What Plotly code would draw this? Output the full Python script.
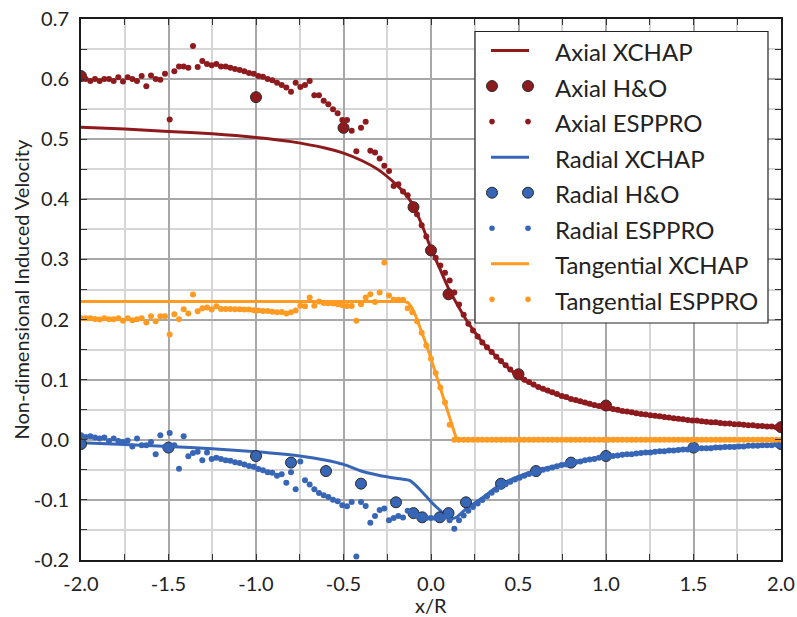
import numpy as np
import plotly.graph_objects as go

# ---------------- data ----------------
# Axial XCHAP (line)
ax_xchap_x = [-2.0, -1.75, -1.5, -1.25, -1.0, -0.8, -0.6, -0.5, -0.4, -0.3, -0.2, -0.15, -0.1, -0.05,
              0.0, 0.05, 0.1, 0.15, 0.2, 0.25, 0.3, 0.4, 0.5, 0.6, 0.7, 0.8, 0.9, 1.0, 1.2, 1.4,
              1.6, 1.8, 2.0]
ax_xchap_y = [0.520, 0.517, 0.513, 0.509, 0.503, 0.496, 0.485, 0.477, 0.465, 0.449, 0.425, 0.410, 0.389, 0.356,
              0.318, 0.285, 0.252, 0.225, 0.200, 0.179, 0.160, 0.131, 0.105, 0.089, 0.077, 0.067, 0.059, 0.052,
              0.042, 0.034, 0.028, 0.024, 0.020]

# Axial H&O
ax_ho_x = [-2.0, -1.0, -0.5, -0.1, 0.0, 0.1, 0.5, 1.0, 2.0]
ax_ho_y = [0.605, 0.570, 0.519, 0.387, 0.315, 0.242, 0.109, 0.057, 0.021]

# ESPPRO sampling stations (uniform, 151 stations from -2 to 2)
esp_x = np.linspace(-2.0, 2.0, 151)

ax_esp_y = [
    0.605, 0.600, 0.597, 0.600, 0.597, 0.600, 0.600, 0.597, 0.603, 0.596,
    0.603, 0.600, 0.597, 0.605, 0.588, 0.606, 0.600, 0.599, 0.609, 0.533,
    0.613, 0.621, 0.621, 0.619, 0.655, 0.620, 0.630, 0.625, 0.623, 0.625,
    0.621, 0.621, 0.619, 0.617, 0.615, 0.613, 0.610, 0.609, 0.605, 0.604,
    0.600, 0.598, 0.594, 0.590, 0.586, 0.579, 0.594, 0.587, 0.590, 0.597,
    0.573, 0.573, 0.564, 0.558, 0.550, 0.543, 0.532, 0.532, 0.514, 0.480,
    0.519, 0.529, 0.481, 0.478, 0.468, 0.456, 0.447, 0.422, 0.425, 0.413,
    0.407, 0.392, 0.375, 0.357, 0.338, 0.320, 0.303, 0.290, 0.278, 0.265,
    0.245, 0.225, 0.208, 0.193, 0.182, 0.172, 0.162, 0.154, 0.146, 0.138,
    0.131, 0.124, 0.117, 0.111, 0.105, 0.100, 0.096, 0.092, 0.088, 0.085,
    0.082, 0.079, 0.076, 0.073, 0.071, 0.068, 0.066, 0.064, 0.062, 0.060,
    0.058, 0.056, 0.054, 0.053, 0.051, 0.050, 0.048, 0.047, 0.046, 0.044,
    0.043, 0.042, 0.041, 0.040, 0.039, 0.038, 0.037, 0.036, 0.035, 0.034,
    0.033, 0.032, 0.032, 0.031, 0.030, 0.029, 0.029, 0.028, 0.027, 0.027,
    0.026, 0.026, 0.025, 0.024, 0.024, 0.023, 0.023, 0.022, 0.022, 0.021,
    0.021,
]

# Radial XCHAP (line)
rad_xchap_x = [-2.0, -1.75, -1.5, -1.25, -1.0, -0.75, -0.6, -0.5, -0.4, -0.3, -0.2, -0.15, -0.12,
               -0.09, -0.05, 0.0, 0.05, 0.09, 0.12, 0.15, 0.2, 0.25, 0.3, 0.35, 0.4, 0.5, 0.6, 0.8,
               1.0, 1.25, 1.5, 1.75, 2.0]
rad_xchap_y = [-0.005, -0.008, -0.011, -0.015, -0.020, -0.027, -0.034, -0.041, -0.052, -0.059, -0.064,
               -0.066, -0.068, -0.075, -0.087, -0.103, -0.117, -0.127, -0.131, -0.128, -0.115, -0.105,
               -0.095, -0.084, -0.074, -0.061, -0.051, -0.038, -0.028, -0.020, -0.014, -0.010, -0.007]

# Radial H&O
rad_ho_x = [-2.0, -1.5, -1.0, -0.8, -0.6, -0.4, -0.2, -0.1, -0.05, 0.05, 0.1, 0.2, 0.4, 0.6, 0.8,
            1.0, 1.5, 2.0]
rad_ho_y = [-0.007, -0.013, -0.027, -0.038, -0.052, -0.073, -0.104, -0.122, -0.129, -0.129, -0.122,
            -0.104, -0.073, -0.052, -0.038, -0.027, -0.013, -0.007]

rad_esp_y = [
    0.0075, 0.0047, 0.0058, 0.0036, 0.002, 0.0036, -0.002, 0.002, -0.002, -0.0036,
    -0.001, -0.011, 0.002, -0.009, -0.009, -0.0036, -0.024, 0.0075, -0.012, 0.0114,
    -0.009, -0.048, 0.0058, -0.0275, -0.022, -0.020, -0.034, -0.021, -0.032, -0.030,
    -0.032, -0.034, -0.035, -0.0374, -0.0385, -0.0413, -0.0435, -0.045, -0.0485, -0.0507,
    -0.054, -0.055, -0.060, -0.0574, -0.0713, -0.054, -0.0824, -0.0363, -0.0674, -0.0746,
    -0.0824, -0.0885, -0.0924, -0.0952, -0.0996, -0.1024, -0.109, -0.1107, -0.1035, -0.194,
    -0.1035, -0.110, -0.138, -0.127, -0.117, -0.1145, -0.134, -0.130, -0.127, -0.1295,
    -0.118, -0.122, -0.126, -0.129, -0.130, -0.130, -0.130, -0.129, -0.128, -0.134,
    -0.148, -0.134, -0.126, -0.118, -0.112, -0.106, -0.100, -0.094, -0.088, -0.083,
    -0.078, -0.074, -0.070, -0.066, -0.063, -0.060, -0.057, -0.055, -0.052, -0.050,
    -0.048, -0.046, -0.044, -0.042, -0.041, -0.039, -0.037, -0.036, -0.034, -0.033,
    -0.032, -0.030, -0.029, -0.028, -0.027, -0.026, -0.025, -0.024, -0.024, -0.023,
    -0.022, -0.021, -0.021, -0.020, -0.019, -0.019, -0.018, -0.018, -0.017, -0.016,
    -0.016, -0.015, -0.015, -0.014, -0.014, -0.014, -0.013, -0.013, -0.012, -0.012,
    -0.012, -0.011, -0.011, -0.010, -0.010, -0.010, -0.009, -0.009, -0.009, -0.008,
    -0.008,
]

# Tangential XCHAP (line)
tan_xchap_x = [-2.0, -0.15, -0.13, -0.11, -0.09, -0.06, -0.03, 0.0, 0.05, 0.10, 0.13, 0.145, 0.16, 2.0]
tan_xchap_y = [0.230, 0.230, 0.228, 0.220, 0.208, 0.186, 0.161, 0.135, 0.090, 0.043, 0.014, 0.002, 0.0, 0.0]

tan_esp_y = [
    0.202, 0.202, 0.202, 0.201, 0.200, 0.202, 0.2005, 0.2005, 0.202, 0.198,
    0.202, 0.199, 0.2005, 0.202, 0.195, 0.2055, 0.197, 0.2055, 0.2055, 0.175,
    0.209, 0.2005, 0.217, 0.210, 0.2415, 0.214, 0.219, 0.220, 0.2166, 0.222,
    0.2177, 0.2177, 0.2177, 0.2172, 0.2172, 0.2166, 0.2166, 0.2155, 0.215, 0.2143,
    0.2143, 0.213, 0.212, 0.2127, 0.210, 0.212, 0.215, 0.223, 0.222, 0.2366,
    0.223, 0.230, 0.2277, 0.227, 0.2266, 0.2255, 0.224, 0.2227, 0.2227, 0.198,
    0.2255, 0.2366, 0.242, 0.229, 0.245, 0.295, 0.240, 0.233, 0.233, 0.233,
    0.219, 0.212, 0.197, 0.178, 0.157, 0.135, 0.111, 0.087, 0.062, 0.025,
    0.0, 0.0, 0.0, 0.0, 0.0, 0.0, 0.0, 0.0, 0.0, 0.0,
    0.0, 0.0, 0.0, 0.0, 0.0, 0.0, 0.0, 0.0, 0.0, 0.0,
    0.0, 0.0, 0.0, 0.0, 0.0, 0.0, 0.0, 0.0, 0.0, 0.0,
    0.0, 0.0, 0.0, 0.0, 0.0, 0.0, 0.0, 0.0, 0.0, 0.0,
    0.0, 0.0, 0.0, 0.0, 0.0, 0.0, 0.0, 0.0, 0.0, 0.0,
    0.0, 0.0, 0.0, 0.0, 0.0, 0.0, 0.0, 0.0, 0.0, 0.0,
    0.0, 0.0, 0.0, 0.0, 0.0, 0.0, 0.0, 0.0, 0.0, 0.0,
    0.0,
]

# Tick labels
x_tickvals = [-2.0, -1.5, -1.0, -0.5, 0.0, 0.5, 1.0, 1.5, 2.0]
x_ticktext = ["-2.0", "-1.5", "-1.0", "-0.5", "0.0", "0.5", "1.0", "1.5", "2.0"]
y_tickvals = [-0.2, -0.1, 0.0, 0.1, 0.2, 0.3, 0.4, 0.5, 0.6, 0.7]
y_ticktext = ["-0.2", "-0.1", "0.0", "0.1", "0.2", "0.3", "0.4", "0.5", "0.6", "0.7"]

# ---------------- style ----------------
RED = "#8e1a1e"
BLUE = "#3866b6"
ORANGE = "#ff9a22"
FONT = "Lato, 'Source Sans Pro', 'Noto Sans', sans-serif"
TXT = "#222222"
OUTLINE = "#2a2a2a"

W, H = 797, 617
ML, MR, MT, MB = 81, 16, 19, 57
PW, PH = W - ML - MR, H - MT - MB


def px(xp):
    return (xp - ML) / PW


def py(yp):
    return (H - MB - yp) / PH


fig = go.Figure()


def line_trace(x, y, color, shape="linear"):
    return go.Scatter(x=x, y=y, mode="lines", showlegend=False,
                      line=dict(color=color, width=3, shape=shape, smoothing=0.6))


def ho_trace(x, y, color):
    return go.Scatter(x=x, y=y, mode="markers", showlegend=False,
                      marker=dict(color=color, size=11, line=dict(color=OUTLINE, width=1)))


def esp_trace(y, color):
    return go.Scatter(x=esp_x, y=y, mode="markers", showlegend=False,
                      marker=dict(color=color, size=6, line=dict(width=0)))


fig.add_trace(line_trace(ax_xchap_x, ax_xchap_y, RED, "spline"))
fig.add_trace(ho_trace(ax_ho_x, ax_ho_y, RED))
fig.add_trace(esp_trace(ax_esp_y, RED))
fig.add_trace(line_trace(rad_xchap_x, rad_xchap_y, BLUE, "spline"))
fig.add_trace(ho_trace(rad_ho_x, rad_ho_y, BLUE))
fig.add_trace(esp_trace(rad_esp_y, BLUE))
fig.add_trace(line_trace(tan_xchap_x, tan_xchap_y, ORANGE))
fig.add_trace(esp_trace(tan_esp_y, ORANGE))

# ---------------- legend (drawn manually, matplotlib-like) ----------------
legend_items = [
    ("Axial XCHAP", RED, "line"),
    ("Axial H&O", RED, "big"),
    ("Axial ESPPRO", RED, "small"),
    ("Radial XCHAP", BLUE, "line"),
    ("Radial H&O", BLUE, "big"),
    ("Radial ESPPRO", BLUE, "small"),
    ("Tangential XCHAP", ORANGE, "line"),
    ("Tangential ESPPRO", ORANGE, "small"),
]
shapes = [dict(type="rect", xref="paper", yref="paper", layer="above",
               x0=px(475), x1=px(768), y0=py(323), y1=py(31.5),
               fillcolor="white", line=dict(color="#222222", width=1.2))]
annotations = []
row0, rowh = 50.5, 35.55
sx0, sx1 = 492, 528
for i, (label, col, kind) in enumerate(legend_items):
    yc = row0 + i * rowh
    if kind == "line":
        shapes.append(dict(type="line", xref="paper", yref="paper", layer="above",
                           x0=px(sx0 - 1), x1=px(sx1 + 1), y0=py(yc), y1=py(yc),
                           line=dict(color=col, width=3)))
    else:
        r = 5.5 if kind == "big" else 2.8
        for cx in (sx0, sx1):
            shapes.append(dict(type="circle", xref="paper", yref="paper", layer="above",
                               x0=px(cx - r), x1=px(cx + r), y0=py(yc + r), y1=py(yc - r),
                               fillcolor=col,
                               line=dict(color=OUTLINE if kind == "big" else col,
                                         width=1 if kind == "big" else 0)))
    annotations.append(dict(text=label, xref="paper", yref="paper", x=px(553), y=py(yc + 1),
                            xanchor="left", yanchor="middle", showarrow=False,
                            font=dict(family=FONT, size=24, color=TXT)))

# axis titles
annotations.append(dict(text="x/R", xref="paper", yref="paper", x=0.5, y=py(605),
                        xanchor="center", yanchor="middle", showarrow=False,
                        font=dict(family=FONT, size=20, color=TXT)))
annotations.append(dict(text="Non-dimensional Induced Velocity", xref="paper", yref="paper",
                        x=px(20), y=0.5, xanchor="center", yanchor="middle", textangle=-90,
                        showarrow=False, font=dict(family=FONT, size=20, color=TXT)))

axis_common = dict(
    showline=True, linecolor="#1a1a1a", linewidth=2, mirror="allticks",
    ticks="inside", ticklen=6, tickwidth=1.3, tickcolor="#333333",
    showgrid=True, gridcolor="#a8a8a8", gridwidth=1.5,
    zeroline=False, automargin=False,
    tickfont=dict(family=FONT, size=20, color=TXT),
)

fig.update_layout(
    width=W, height=H,
    margin=dict(l=ML, r=MR, t=MT, b=MB),
    paper_bgcolor="white", plot_bgcolor="white",
    font=dict(family=FONT, color=TXT),
    xaxis=dict(range=[-2.0, 2.0], tickmode="array", tickvals=x_tickvals, ticktext=x_ticktext,
               minor=dict(dtick=0.25, tick0=0, showgrid=True, gridcolor="#d6d6d6", gridwidth=1.5,
                          ticks="inside", ticklen=6, tickcolor="#333333", tickwidth=1.3),
               ticklabelstandoff=5,
               **axis_common),
    yaxis=dict(range=[-0.2, 0.7], tickmode="array", tickvals=y_tickvals, ticktext=y_ticktext,
               minor=dict(dtick=0.05, tick0=0, showgrid=True, gridcolor="#d6d6d6", gridwidth=1.5,
                          ticks="inside", ticklen=6, tickcolor="#333333", tickwidth=1.3),
               ticklabelstandoff=6,
               **axis_common),
    shapes=shapes,
    annotations=annotations,
    showlegend=False,
)

fig.write_html("out.html")
